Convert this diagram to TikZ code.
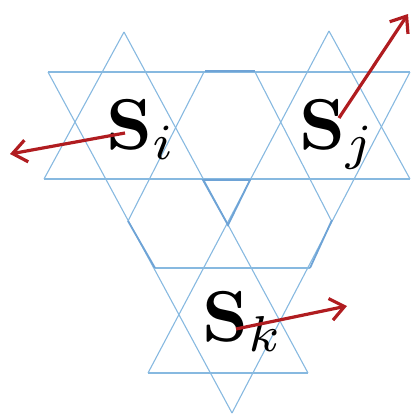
\documentclass[tikz,border=0pt]{standalone}
\usepackage{amsmath}
\usepackage{amssymb}
\usepackage{xcolor}
\usetikzlibrary{arrows.meta}
\definecolor{latblue}{RGB}{135,185,224}
\definecolor{hexblue}{RGB}{110,163,214}
\definecolor{spinred}{RGB}{176,28,32}

\begin{document}
\begin{tikzpicture}[
      x=1pt, y=-1pt,
      lat/.style={draw=latblue, line width=1.1pt},
      hex/.style={draw=hexblue, line width=1.8pt},
      spin/.style={draw=spinred, line width=3.2pt,
                   -{Straight Barb[length=14pt,width=22pt]}},
      lab/.style={anchor=base west, inner sep=0pt, scale=7.2}
    ]
    \useasboundingbox (0,0) rectangle (412,418);

    \draw[lat] (48,72)   -- (410,72);
    \draw[lat] (44,179)  -- (410,179);
    \draw[lat] (155,268) -- (310,268);
    \draw[lat] (148,373) -- (308,373);
    \draw[lat] (124,32)  -- (308,373);
    \draw[lat] (329,31)  -- (148,373);
    \draw[lat] (48,72)   -- (232,413);
    \draw[lat] (410,72)  -- (232,413);
    \draw[lat] (124,32)  -- (44,179);
    \draw[lat] (204,72)  -- (128,221);
    \draw[lat] (329,31)  -- (410,179);
    \draw[lat] (255,72)  -- (331,220);

    \draw[hex] (205,71)  -- (255,71);
    \draw[hex] (203,180) -- (250,180) -- (228,225) -- cycle;
    \draw[hex] (332,220) -- (310,268);
    \draw[hex] (128,221) -- (155,268);

    \node[lab] (si) at (105,149) {$\mathbf{S}_i$};
    \node[lab] (sj) at (298,149) {$\mathbf{S}_j$};
    \node[lab] (sk) at (201,341) {$\mathbf{S}_k$};

    \coordinate (ia) at (125,133);
    \coordinate (ib) at (10,154);
    \coordinate (ja) at (339,118);
    \coordinate (jb) at (408,14);
    \coordinate (ka) at (236,329);
    \coordinate (kb) at (347,306);

    \draw[spin] (ia) -- (ib);
    \draw[spin] (ja) -- (jb);
    \draw[spin] (ka) -- (kb);
  \end{tikzpicture}
\end{document}
